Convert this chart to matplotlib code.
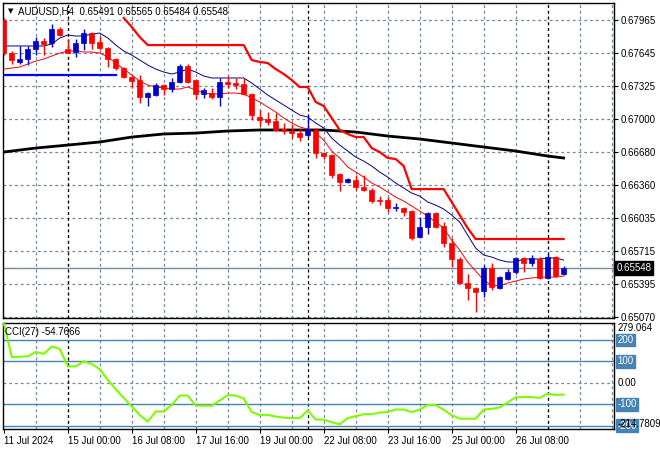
import numpy as np
import matplotlib
matplotlib.use("Agg")
import matplotlib.pyplot as plt
import matplotlib.transforms as mtransforms

plt.rcParams["font.family"] = ["Liberation Sans", "DejaVu Sans"]

SYMBOL = "AUDUSD,H4"

# H4 candles, oldest first (11 Jul 16:00 ... 29 Jul 08:00)
opens = [0.67965, 0.67643, 0.67556, 0.67585, 0.67682, 0.67760, 0.67741, 0.67877, 0.67682, 0.67653,
         0.67741, 0.67838, 0.67751, 0.67692, 0.67585, 0.67497, 0.67409, 0.67380, 0.67214, 0.67234,
         0.67331, 0.67292, 0.67361, 0.67517, 0.67380, 0.67244, 0.67253, 0.67214, 0.67361, 0.67351,
         0.67341, 0.67244, 0.67020, 0.67000, 0.66980, 0.66902, 0.66883, 0.66863, 0.66844, 0.66892,
         0.66668, 0.66649, 0.66464, 0.66386, 0.66405, 0.66337, 0.66308, 0.66210, 0.66210, 0.66132,
         0.66132, 0.66103, 0.65849, 0.65947, 0.66083, 0.65956, 0.65791, 0.65635, 0.65401, 0.65352,
         0.65323, 0.65547, 0.65352, 0.65440, 0.65508, 0.65645, 0.65596, 0.65635, 0.65450, 0.65655,
         0.65491]
highs = [0.67985, 0.67663, 0.67712, 0.67712, 0.67799, 0.67790, 0.67926, 0.67897, 0.67780, 0.67780,
         0.67877, 0.67848, 0.67809, 0.67702, 0.67595, 0.67507, 0.67419, 0.67429, 0.67263, 0.67351,
         0.67341, 0.67400, 0.67536, 0.67536, 0.67390, 0.67302, 0.67302, 0.67400, 0.67419, 0.67400,
         0.67400, 0.67253, 0.67088, 0.67068, 0.67058, 0.66961, 0.66951, 0.66902, 0.67039, 0.66912,
         0.66678, 0.66659, 0.66474, 0.66425, 0.66454, 0.66454, 0.66327, 0.66249, 0.66239, 0.66181,
         0.66142, 0.66113, 0.66044, 0.66093, 0.66093, 0.65995, 0.65840, 0.65655, 0.65489, 0.65362,
         0.65576, 0.65596, 0.65469, 0.65538, 0.65655, 0.65655, 0.65674, 0.65655, 0.65684, 0.65664,
         0.65565]
lows = [0.67624, 0.67536, 0.67536, 0.67526, 0.67624, 0.67624, 0.67702, 0.67809, 0.67643, 0.67604,
        0.67672, 0.67682, 0.67672, 0.67507, 0.67478, 0.67400, 0.67302, 0.67156, 0.67127, 0.67224,
        0.67234, 0.67263, 0.67351, 0.67351, 0.67195, 0.67205, 0.67195, 0.67127, 0.67302, 0.67292,
        0.67234, 0.66990, 0.66932, 0.66941, 0.66883, 0.66854, 0.66815, 0.66785, 0.66824, 0.66620,
        0.66610, 0.66425, 0.66298, 0.66376, 0.66308, 0.66298, 0.66181, 0.66161, 0.66093, 0.66103,
        0.66054, 0.65820, 0.65840, 0.65879, 0.65937, 0.65752, 0.65557, 0.65391, 0.65235, 0.65118,
        0.65264, 0.65333, 0.65343, 0.65430, 0.65489, 0.65508, 0.65567, 0.65440, 0.65440, 0.65460,
        0.65484]
closes = [0.67643, 0.67575, 0.67585, 0.67682, 0.67760, 0.67731, 0.67877, 0.67819, 0.67643, 0.67741,
          0.67838, 0.67741, 0.67692, 0.67585, 0.67497, 0.67409, 0.67370, 0.67214, 0.67253, 0.67331,
          0.67292, 0.67361, 0.67517, 0.67361, 0.67244, 0.67283, 0.67214, 0.67361, 0.67341, 0.67331,
          0.67244, 0.67039, 0.66990, 0.66971, 0.66892, 0.66883, 0.66863, 0.66824, 0.66892, 0.66668,
          0.66639, 0.66454, 0.66386, 0.66415, 0.66337, 0.66308, 0.66200, 0.66200, 0.66132, 0.66142,
          0.66093, 0.65840, 0.65947, 0.66083, 0.65947, 0.65791, 0.65635, 0.65401, 0.65352, 0.65313,
          0.65547, 0.65362, 0.65460, 0.65508, 0.65645, 0.65596, 0.65645, 0.65450, 0.65655, 0.65469,
          0.65548]

# channel lines (upper = navy, lower = thin red)
upper_ma = [0.67712, 0.67712, 0.67712, 0.67712, 0.67712, 0.67712, 0.67731, 0.67790, 0.67819, 0.67809,
            0.67809, 0.67829, 0.67838, 0.67790, 0.67721, 0.67663, 0.67624, 0.67575, 0.67526, 0.67487,
            0.67458, 0.67439, 0.67458, 0.67487, 0.67458, 0.67419, 0.67400, 0.67400, 0.67400, 0.67400,
            0.67400, 0.67351, 0.67292, 0.67234, 0.67185, 0.67136, 0.67088, 0.67039, 0.67019, 0.66961,
            0.66912, 0.66815, 0.66746, 0.66688, 0.66629, 0.66590, 0.66542, 0.66483, 0.66434, 0.66376,
            0.66327, 0.66278, 0.66249, 0.66191, 0.66161, 0.66122, 0.66064, 0.65996, 0.65869, 0.65742,
            0.65674, 0.65654, 0.65625, 0.65606, 0.65606, 0.65635, 0.65635, 0.65635, 0.65645, 0.65645,
            0.65625]
lower_ma = [0.67487, 0.67497, 0.67507, 0.67536, 0.67565, 0.67585, 0.67614, 0.67643, 0.67663, 0.67663,
            0.67653, 0.67653, 0.67643, 0.67604, 0.67546, 0.67487, 0.67429, 0.67370, 0.67331, 0.67312,
            0.67302, 0.67292, 0.67292, 0.67312, 0.67283, 0.67253, 0.67244, 0.67244, 0.67253, 0.67253,
            0.67244, 0.67205, 0.67166, 0.67117, 0.67068, 0.67010, 0.66961, 0.66922, 0.66902, 0.66863,
            0.66795, 0.66688, 0.66620, 0.66532, 0.66483, 0.66434, 0.66376, 0.66337, 0.66288, 0.66239,
            0.66200, 0.66152, 0.66103, 0.66054, 0.65996, 0.65937, 0.65820, 0.65723, 0.65606, 0.65518,
            0.65430, 0.65381, 0.65372, 0.65401, 0.65420, 0.65440, 0.65450, 0.65459, 0.65459, 0.65459,
            0.65469]

# trailing stop line, starts at bar 15
stop_start = 15
stop_line = [0.67985, 0.67897, 0.67799, 0.67721, 0.67721, 0.67721, 0.67721, 0.67721, 0.67721, 0.67721,
             0.67721, 0.67721, 0.67721, 0.67721, 0.67721, 0.67721, 0.67575, 0.67556, 0.67546, 0.67487,
             0.67439, 0.67380, 0.67312, 0.67312, 0.67166, 0.67127, 0.67010, 0.66893, 0.66854, 0.66824,
             0.66824, 0.66717, 0.66678, 0.66620, 0.66610, 0.66542, 0.66317, 0.66317, 0.66317, 0.66317,
             0.66317, 0.66191, 0.66064, 0.65937, 0.65830, 0.65830, 0.65830, 0.65830, 0.65830, 0.65830,
             0.65830, 0.65830, 0.65830, 0.65830, 0.65830, 0.65830]

# long moving average (black)
long_ma_idx = [0, 4, 8, 12, 16, 20, 24, 28, 32, 36, 40, 44, 48, 52, 56, 60, 64, 68, 70]
long_ma = [0.66678, 0.66717, 0.66746, 0.66776, 0.66824, 0.66854, 0.66863, 0.66883, 0.66893, 0.66893,
           0.66893, 0.66873, 0.66834, 0.66805, 0.66766, 0.66727, 0.66688, 0.66639, 0.66620]

# horizontal level (blue)
level_price = 0.67429
level_end = 14

cci = [279.06, 120, 122, 124, 144, 135, 170, 158, 77, 77,
       100, 88, 64, 14, -30, -70, -110, -150, -180, -133,
       -133, -103, -59, -59, -106, -106, -106, -82, -57, -59,
       -72, -136, -149, -149, -157, -162, -164, -164, -128, -171,
       -171, -183, -193, -164, -155, -146, -146, -138, -136, -124,
       -124, -136, -124, -103, -103, -125, -150, -167, -167, -167,
       -124, -121, -114, -92, -67, -66, -66, -70, -50, -56,
       -54.7666]
cci_max = 279.064
cci_min = -214.7809
cci_levels = [200, 100, -100, -200]

price_ticks = [0.67965, 0.67645, 0.67325, 0.67000, 0.66680, 0.66360, 0.66035, 0.65715, 0.65395, 0.65070]
date_idx = [0, 8, 16, 24, 32, 40, 48, 56, 64]
date_labels = ["11 Jul 2024", "15 Jul 00:00", "16 Jul 08:00", "17 Jul 16:00", "19 Jul 00:00",
               "22 Jul 08:00", "23 Jul 16:00", "25 Jul 00:00", "26 Jul 08:00"]
week_idx = [8, 38, 68]

GRID = "#778899"
BULL = "#0000CC"
BEAR = "#FF0000"
LEVEL_BLUE = "#4682B4"
FS = 7

fig = plt.figure(figsize=(6.6, 4.5), dpi=100)
ax = fig.add_axes([3 / 660, 1 - 318 / 450, 611 / 660, 315 / 450])
axc = fig.add_axes([3 / 660, 1 - 429 / 450, 611 / 660, 106 / 450], sharex=ax)

x = np.arange(len(opens))
o = np.array(opens)
h = np.array(highs)
l = np.array(lows)
c = np.array(closes)
bull = c > o

for a in (ax, axc):
    for xi in range(4, 80, 4):
        a.axvline(xi, color=GRID, lw=0.9, ls=(0, (2.3, 2.3)), zorder=0)
    for xi in week_idx:
        a.axvline(xi, color="black", lw=0.9, ls=(0, (2.3, 2.3)), zorder=1)

for p in price_ticks:
    ax.axhline(p, color=GRID, lw=0.9, ls=(0, (2.3, 2.3)), zorder=0)

# indicator lines
ax.plot(long_ma_idx, long_ma, color="black", lw=2.0, zorder=2)
ax.plot(x, upper_ma, color="#000080", lw=0.7, zorder=3)
ax.plot(x, lower_ma, color="red", lw=0.7, zorder=3)
ax.plot(np.arange(stop_start, stop_start + len(stop_line)), stop_line, color="red", lw=1.6, zorder=3)
ax.plot([0, level_end], [level_price, level_price], color="#0000FF", lw=1.6, zorder=3)

# current price line
ax.axhline(closes[-1], color=GRID, lw=1.0, zorder=1)

# candles
colors = np.where(bull, BULL, BEAR)
ax.vlines(x, l, h, colors=colors, lw=1.0, zorder=4)
body_lo = np.minimum(o, c)
body_h = np.maximum(np.abs(c - o), 0.00004)
ax.bar(x, body_h, bottom=body_lo, width=0.62, color=colors, edgecolor=colors, lw=0.5, zorder=5)

ax.set_xlim(-0.1, 76.3)
ax.set_ylim(0.65060, 0.68131)
ax.yaxis.tick_right()
ax.set_yticks(price_ticks)
ax.set_yticklabels([f"{p:.5f}" for p in price_ticks], fontsize=FS)
ax.tick_params(axis="y", length=3, width=0.8, pad=2)
ax.tick_params(axis="x", bottom=False, labelbottom=False)
for s in ax.spines.values():
    s.set_linewidth(1.0)

tr = mtransforms.blended_transform_factory(ax.transAxes, ax.transData)
ax.text(1.004, closes[-1], f"{closes[-1]:.5f}", transform=tr, fontsize=FS, color="white",
        va="center", ha="left", zorder=10, clip_on=False,
        bbox=dict(boxstyle="square,pad=0.2", fc="black", ec="black"))

ax.text(0.008, 0.985, "\u25BC", transform=ax.transAxes, fontsize=5, va="top", ha="left",
        family=["DejaVu Sans"])
ax.text(0.025, 0.99, f"{SYMBOL}  {opens[-1]:.5f} {highs[-1]:.5f} {lows[-1]:.5f} {closes[-1]:.5f}",
        transform=ax.transAxes, fontsize=FS, va="top", ha="left")

# CCI panel
for lv in cci_levels:
    axc.axhline(lv, color=LEVEL_BLUE, lw=1.0, zorder=1)
axc.axhline(0, color=GRID, lw=0.9, ls=(0, (2.3, 2.3)), zorder=0)
axc.plot(x, cci, color="#7CFC00", lw=1.5, zorder=3)
axc.set_ylim(cci_min, cci_max)
axc.set_yticks([])
axc.tick_params(axis="y", right=False, left=False, labelleft=False)
axc.set_xticks(date_idx)
axc.set_xticklabels(date_labels, fontsize=FS, ha="left")
axc.tick_params(axis="x", length=3, width=0.8, pad=2)
for s in axc.spines.values():
    s.set_linewidth(1.0)

trc = mtransforms.blended_transform_factory(axc.transAxes, axc.transData)
for lv in cci_levels:
    axc.text(1.006, lv, f"{lv}", transform=trc, fontsize=FS, color="white", va="center", ha="left",
             clip_on=False, bbox=dict(boxstyle="square,pad=0.15", fc=LEVEL_BLUE, ec=LEVEL_BLUE))
axc.text(1.006, 0, "0.00", transform=trc, fontsize=FS, va="center", ha="left", clip_on=False)
axc.text(1.006, cci_max, f"{cci_max:.3f}", transform=trc, fontsize=FS, va="top", ha="left",
         clip_on=False)
axc.text(1.006, cci_min, f"{cci_min:.4f}", transform=trc, fontsize=FS, va="bottom", ha="left",
         clip_on=False, zorder=10)
axc.text(0.004, 0.96, f"CCI(27) {cci[-1]:.4f}", transform=axc.transAxes, fontsize=FS,
         va="top", ha="left")

fig.savefig("out.png", dpi=100)
